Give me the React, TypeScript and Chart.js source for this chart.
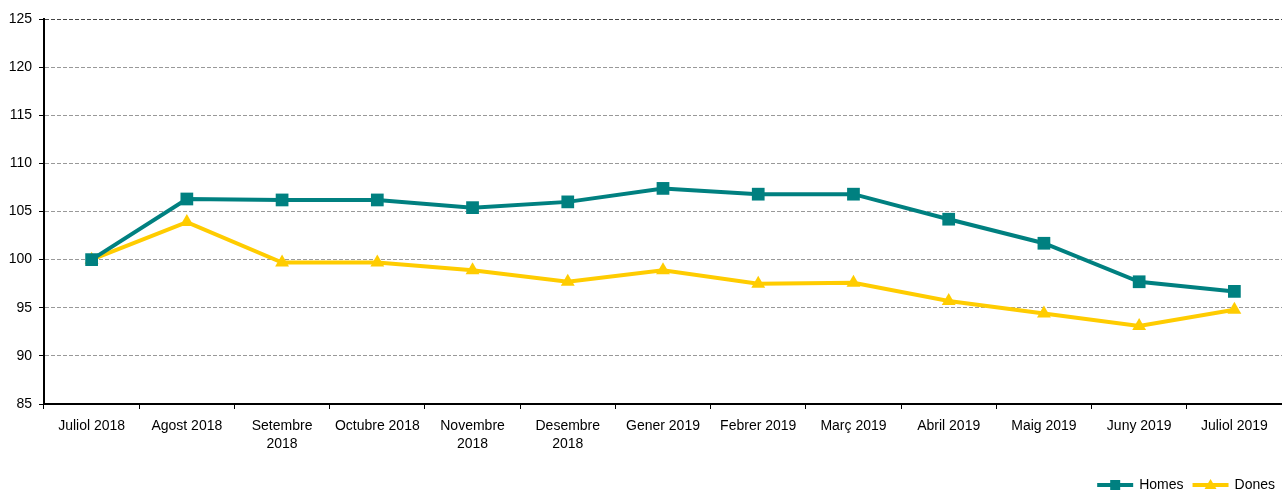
import React, { useEffect, useRef } from "react";
import { Chart, registerables } from "chart.js";

Chart.register(...registerables);

const categories: (string | string[])[] = [
  "Juliol 2018",
  "Agost 2018",
  ["Setembre", "2018"],
  "Octubre 2018",
  ["Novembre", "2018"],
  ["Desembre", "2018"],
  "Gener 2019",
  "Febrer 2019",
  "Març 2019",
  "Abril 2019",
  "Maig 2019",
  "Juny 2019",
  "Juliol 2019",
];
const homes = [100.0, 106.3, 106.2, 106.2, 105.4, 106.0, 107.4, 106.8, 106.8, 104.2, 101.7, 97.7, 96.7];
const dones = [100.0, 103.9, 99.7, 99.7, 98.9, 97.7, 98.9, 97.5, 97.6, 95.7, 94.4, 93.1, 94.8];
const seriesNames = ["Homes", "Dones"];
const yMin = 85;
const yMax = 125;
const yStep = 5;

const TEAL = "#008080";
const YELLOW = "#FFCC00";
const FONT = "'Liberation Sans', Arial, sans-serif";

const legendPlugin = {
  id: "customLegend",
  afterDraw(chart: any) {
    const ctx = chart.ctx;
    const ds = chart.data.datasets;
    ctx.save();
    ctx.font = `14px ${FONT}`;
    ctx.textBaseline = "middle";
    const y = chart.height - 7;
    const lineLen = 36;
    const gapText = 6;
    const gapItem = 9;
    let x = chart.width - 7;
    const items = ds.map((d: any) => ({ d, w: ctx.measureText(d.label).width }));
    let total = 0;
    items.forEach((it: any, i: number) => {
      total += lineLen + gapText + it.w + (i > 0 ? gapItem : 0);
    });
    x = x - total;
    items.forEach((it: any, i: number) => {
      if (i > 0) x += gapItem;
      const d = it.d;
      ctx.strokeStyle = d.borderColor;
      ctx.lineWidth = 4;
      ctx.beginPath();
      ctx.moveTo(x, y);
      ctx.lineTo(x + lineLen, y);
      ctx.stroke();
      const cx = x + lineLen / 2;
      ctx.fillStyle = d.pointBackgroundColor;
      ctx.beginPath();
      if (d.pointStyle === "rect") {
        ctx.rect(cx - 5, y - 5, 10, 10);
      } else {
        ctx.moveTo(cx, y - 6);
        ctx.lineTo(cx + 6, y + 4);
        ctx.lineTo(cx - 6, y + 4);
        ctx.closePath();
      }
      ctx.fill();
      x += lineLen + gapText;
      ctx.fillStyle = "#000";
      ctx.textAlign = "left";
      ctx.fillText(d.label, x, y);
      x += it.w;
    });
    ctx.restore();
  },
};

export default function App() {
  const ref = useRef<HTMLCanvasElement>(null);
  useEffect(() => {
    if (!ref.current) return;
    const chart = new Chart(ref.current, {
      type: "line",
      data: {
        labels: categories as any,
        datasets: [
          {
            label: seriesNames[0],
            data: homes,
            borderColor: TEAL,
            backgroundColor: TEAL,
            pointBackgroundColor: TEAL,
            pointBorderColor: TEAL,
            pointStyle: "rect",
            pointRadius: 9,
            pointBorderWidth: 0,
            borderWidth: 4,
            tension: 0,
          },
          {
            label: seriesNames[1],
            data: dones,
            borderColor: YELLOW,
            backgroundColor: YELLOW,
            pointBackgroundColor: YELLOW,
            pointBorderColor: YELLOW,
            pointStyle: "triangle",
            pointRadius: 8,
            pointBorderWidth: 0,
            borderWidth: 4,
            tension: 0,
          },
        ],
      },
      options: {
        animation: false,
        responsive: false,
        maintainAspectRatio: false,
        layout: { autoPadding: false, padding: { top: 19, right: 0, left: 0, bottom: 0 } },
        plugins: {
          legend: { display: false },
          tooltip: { enabled: false },
        },
        scales: {
          x: {
            offset: true,
            grid: {
              offset: true,
              drawOnChartArea: false,
              drawTicks: true,
              tickLength: 5,
              tickColor: "#000",
            },
            border: { display: true, color: "#000", width: 2 },
            ticks: {
              color: "#000",
              font: { family: FONT, size: 14, lineHeight: 1.3 },
              padding: 8,
              maxRotation: 0,
              autoSkip: false,
            },
            afterFit: (s: any) => {
              s.height = 88;
              s.paddingLeft = 0;
              s.paddingRight = 0;
            },
          },
          y: {
            min: yMin,
            max: yMax,
            ticks: {
              stepSize: yStep,
              color: "#000",
              font: { family: FONT, size: 14 },
              padding: 7,
            },
            grid: {
              color: (c: any) => (c.tick && c.tick.value === yMax ? "#444" : "#999"),
              lineWidth: 1,
              tickLength: 5,
              tickColor: "#000",
            },
            border: { display: true, color: "#000", width: 2, dash: [4, 2] },
            afterFit: (s: any) => {
              s.width = 44;
            },
          },
        },
      },
      plugins: [legendPlugin],
    });
    return () => chart.destroy();
  }, []);
  return (
    <div style={{ position: "absolute", left: 0, top: 0, width: 1282, height: 492, background: "#fff" }}>
      <canvas ref={ref} width={1282} height={492} style={{ display: "block" }} />
    </div>
  );
}
